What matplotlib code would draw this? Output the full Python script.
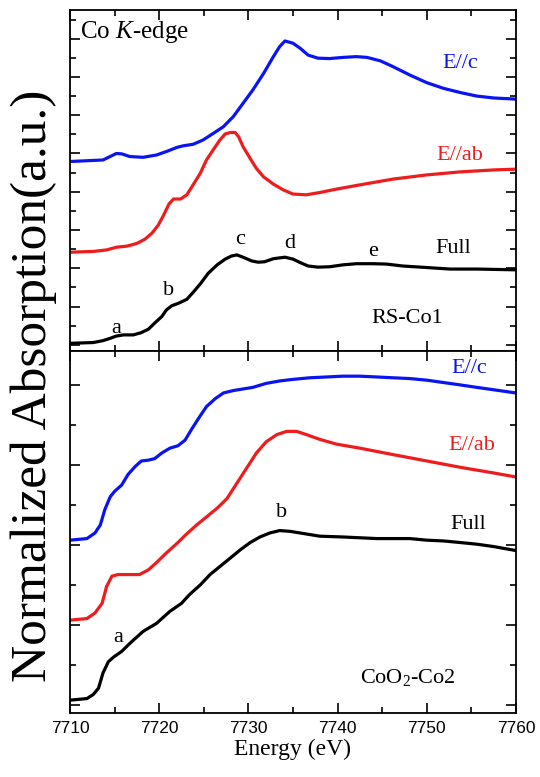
import matplotlib
matplotlib.use("Agg")
import matplotlib.pyplot as plt
from matplotlib.ticker import MultipleLocator

# ── Data ──────────────────────────────────────────────────────────────────────
# RS-Co1 panel
rs_c_e = [7710, 7713.7, 7714.5, 7715.2, 7715.8, 7716.7, 7718.2, 7719.7, 7720.8,
          7722.0, 7722.7, 7723.8, 7724.9, 7726.1, 7727.2, 7728.3, 7729.4, 7730.5,
          7731.7, 7732.8, 7733.5, 7734.1, 7735.0, 7735.8, 7736.7, 7737.8, 7739.1,
          7740.6, 7742.1, 7743.3, 7744.8, 7746.2, 7748.1, 7750.0, 7751.9, 7753.8,
          7755.6, 7757.5, 7760]
rs_c_mu = [4.79, 4.83, 4.92, 5.00, 4.99, 4.92, 4.90, 4.96, 5.05,
           5.16, 5.20, 5.24, 5.35, 5.53, 5.70, 5.96, 6.31, 6.66,
           7.09, 7.53, 7.79, 7.94, 7.88, 7.75, 7.57, 7.49, 7.48,
           7.51, 7.53, 7.51, 7.42, 7.27, 7.05, 6.85, 6.70, 6.59,
           6.50, 6.45, 6.42]

rs_ab_e = [7710, 7712.6, 7714.1, 7715.2, 7716.4, 7717.5, 7718.4, 7719.2, 7719.9,
           7720.5, 7721.1, 7721.6, 7722.4, 7723.1, 7723.8, 7724.6, 7725.3, 7726.1,
           7726.8, 7727.4, 7728.0, 7728.5, 7728.9, 7729.4, 7730.2, 7730.9, 7731.7,
           7732.8, 7733.9, 7735.0, 7736.5, 7738.0, 7739.9, 7742.5, 7746.2, 7750.0,
           7753.8, 7757.5, 7760]
rs_ab_mu = [2.42, 2.44, 2.48, 2.55, 2.58, 2.65, 2.76, 2.92, 3.13,
            3.39, 3.68, 3.81, 3.81, 3.92, 4.18, 4.48, 4.83, 5.11,
            5.35, 5.51, 5.55, 5.55, 5.44, 5.18, 4.87, 4.61, 4.39,
            4.20, 4.05, 3.94, 3.92, 3.98, 4.07, 4.18, 4.33, 4.44,
            4.52, 4.57, 4.59]

rs_full_e = [7710, 7712.6, 7713.7, 7714.5, 7715.2, 7716.0, 7717.1, 7718.0, 7718.8,
             7719.5, 7720.3, 7720.8, 7721.4, 7722.2, 7723.1, 7723.8, 7724.6, 7725.5,
             7726.5, 7727.4, 7728.1, 7728.7, 7729.4, 7730.4, 7731.1, 7731.8, 7732.8,
             7734.1, 7735.0, 7735.8, 7736.7, 7737.8, 7739.1, 7740.6, 7742.1, 7744.0,
             7745.5, 7747.3, 7750.0, 7752.6, 7755.6, 7760]
rs_full_mu = [0.04, 0.06, 0.11, 0.17, 0.23, 0.26, 0.26, 0.32, 0.41,
              0.57, 0.74, 0.91, 1.02, 1.09, 1.19, 1.37, 1.59, 1.87,
              2.09, 2.24, 2.32, 2.35, 2.29, 2.19, 2.16, 2.17, 2.25,
              2.29, 2.24, 2.15, 2.06, 2.03, 2.04, 2.09, 2.12, 2.12,
              2.11, 2.06, 2.02, 1.98, 1.98, 1.96]

# CoO2-Co2 panel
co_c_e = [7710, 7711.9, 7712.8, 7713.4, 7713.9, 7714.5, 7715.0, 7715.8, 7716.5,
          7717.3, 7718.0, 7718.8, 7719.5, 7720.3, 7721.2, 7722.1, 7722.9, 7723.6,
          7724.4, 7725.3, 7726.3, 7727.2, 7728.3, 7729.4, 7730.5, 7732.0, 7733.5,
          7735.0, 7736.9, 7738.8, 7740.6, 7742.5, 7744.4, 7746.2, 7748.1, 7750.0,
          7751.9, 7753.8, 7755.6, 7757.5, 7760]
co_c_mu = [2.06, 2.08, 2.15, 2.25, 2.44, 2.60, 2.67, 2.75, 2.88,
           2.98, 3.05, 3.06, 3.08, 3.15, 3.21, 3.24, 3.31, 3.44,
           3.58, 3.73, 3.83, 3.90, 3.93, 3.95, 3.97, 4.02, 4.05,
           4.07, 4.09, 4.10, 4.11, 4.11, 4.10, 4.09, 4.08, 4.06,
           4.03, 4.00, 3.97, 3.94, 3.90]

co_ab_e = [7710, 7711.9, 7712.8, 7713.6, 7714.1, 7714.7, 7715.4, 7716.7, 7717.8,
           7718.8, 7719.7, 7720.8, 7722.0, 7723.1, 7724.2, 7725.3, 7726.5, 7727.6,
           7728.7, 7729.8, 7730.9, 7732.0, 7733.2, 7734.3, 7735.4, 7736.5, 7738.0,
           7739.9, 7742.5, 7746.2, 7750.0, 7753.8, 7757.5, 7760]
co_ab_mu = [1.06, 1.08, 1.15, 1.27, 1.48, 1.61, 1.63, 1.63, 1.63,
            1.69, 1.78, 1.90, 2.02, 2.14, 2.25, 2.35, 2.46, 2.58,
            2.77, 2.96, 3.15, 3.29, 3.38, 3.42, 3.42, 3.38, 3.32,
            3.26, 3.21, 3.13, 3.05, 2.97, 2.90, 2.85]

co_full_e = [7710, 7711.9, 7712.6, 7713.2, 7713.7, 7714.3, 7714.9, 7715.8, 7716.9,
             7718.2, 7719.7, 7721.2, 7722.5, 7723.4, 7724.6, 7725.7, 7726.8, 7727.9,
             7729.1, 7730.2, 7731.3, 7732.4, 7733.5, 7734.7, 7735.8, 7738.0, 7740.6,
             7744.4, 7748.1, 7750.0, 7751.9, 7753.8, 7755.6, 7757.5, 7760]
co_full_mu = [0.06, 0.08, 0.13, 0.21, 0.40, 0.54, 0.60, 0.67, 0.79,
              0.92, 1.02, 1.17, 1.27, 1.38, 1.50, 1.63, 1.73, 1.83,
              1.94, 2.03, 2.10, 2.15, 2.18, 2.17, 2.15, 2.11, 2.10,
              2.08, 2.08, 2.06, 2.05, 2.03, 2.01, 1.98, 1.93]

BLUE = "#0a14f0"
RED = "#ee1c1c"
BLACK = "#000000"
SERIF = ["Liberation Serif", "DejaVu Serif"]

plt.rcParams["font.family"] = ["Liberation Sans", "DejaVu Sans"]
plt.rcParams["mathtext.fontset"] = "custom"
plt.rcParams["mathtext.rm"] = "Liberation Serif"
plt.rcParams["mathtext.it"] = "Liberation Serif:italic"

fig = plt.figure(figsize=(5.4, 7.77), dpi=100)
ax1 = fig.add_axes([0.1296, 0.5483, 0.8259, 0.4389])
ax2 = fig.add_axes([0.1296, 0.0824, 0.8259, 0.4659])

LW = 2.3
ax1.plot(rs_c_e, rs_c_mu, color=BLUE, lw=LW)
ax1.plot(rs_ab_e, rs_ab_mu, color=RED, lw=LW)
ax1.plot(rs_full_e, rs_full_mu, color=BLACK, lw=LW)

ax2.plot(co_c_e, co_c_mu, color=BLUE, lw=LW)
ax2.plot(co_ab_e, co_ab_mu, color=RED, lw=LW)
ax2.plot(co_full_e, co_full_mu, color=BLACK, lw=LW)

ax1.set_ylim(-0.16, 8.75)
ax2.set_ylim(-0.1, 4.425)

for ax in (ax1, ax2):
    ax.set_xlim(7710, 7760)
    ax.xaxis.set_major_locator(MultipleLocator(10))
    ax.xaxis.set_minor_locator(MultipleLocator(5))
    ax.yaxis.set_major_locator(MultipleLocator(1))
    ax.yaxis.set_minor_locator(MultipleLocator(0.5))
    ax.tick_params(which="both", direction="in", top=True, right=True,
                   width=1.2, labelleft=False)
    ax.tick_params(which="major", length=7)
    ax.tick_params(which="minor", length=4)
    for s in ax.spines.values():
        s.set_linewidth(1.3)

ax1.tick_params(labelbottom=False)
ax2.tick_params(axis="x", labelsize=12.5, pad=6)

ax2.set_xlabel("Energy (eV)", family=SERIF, fontsize=17, labelpad=2)
fig.text(0.062, 0.503, "Normalized Absorption(a.u.)", family=SERIF, fontsize=37,
         rotation=90, ha="center", va="center")

fs = 16
# top panel labels
ax1.text(7711.1, 8.17, "Co $K$-edge", family=SERIF, fontsize=18, ha="left", va="center")
ax1.text(7753.7, 7.36, "E//c", family=SERIF, fontsize=fs, color=BLUE, ha="center", va="center")
ax1.text(7753.7, 4.96, "E//ab", family=SERIF, fontsize=fs, color=RED, ha="center", va="center")
ax1.text(7753.0, 2.53, "Full", family=SERIF, fontsize=fs, ha="center", va="center")
ax1.text(7747.8, 0.70, "RS-Co1", family=SERIF, fontsize=fs, ha="center", va="center")
for lbl, x, y in [("a", 7715.2, 0.44), ("b", 7721.1, 1.41), ("c", 7729.1, 2.74),
                  ("d", 7734.6, 2.64), ("e", 7744.0, 2.43)]:
    ax1.text(x, y, lbl, family=SERIF, fontsize=fs, ha="center", va="center")

# bottom panel labels
ax2.text(7754.8, 4.20, "E//c", family=SERIF, fontsize=fs, color=BLUE, ha="center", va="center")
ax2.text(7755.1, 3.24, "E//ab", family=SERIF, fontsize=fs, color=RED, ha="center", va="center")
ax2.text(7754.7, 2.26, "Full", family=SERIF, fontsize=fs, ha="center", va="center")
ax2.text(7747.9, 0.34, "CoO$_2$-Co2", family=SERIF, fontsize=fs, ha="center", va="center")
ax2.text(7733.7, 2.40, "b", family=SERIF, fontsize=fs, ha="center", va="center")
ax2.text(7715.4, 0.84, "a", family=SERIF, fontsize=fs, ha="center", va="center")

fig.savefig("out.png", dpi=100)
